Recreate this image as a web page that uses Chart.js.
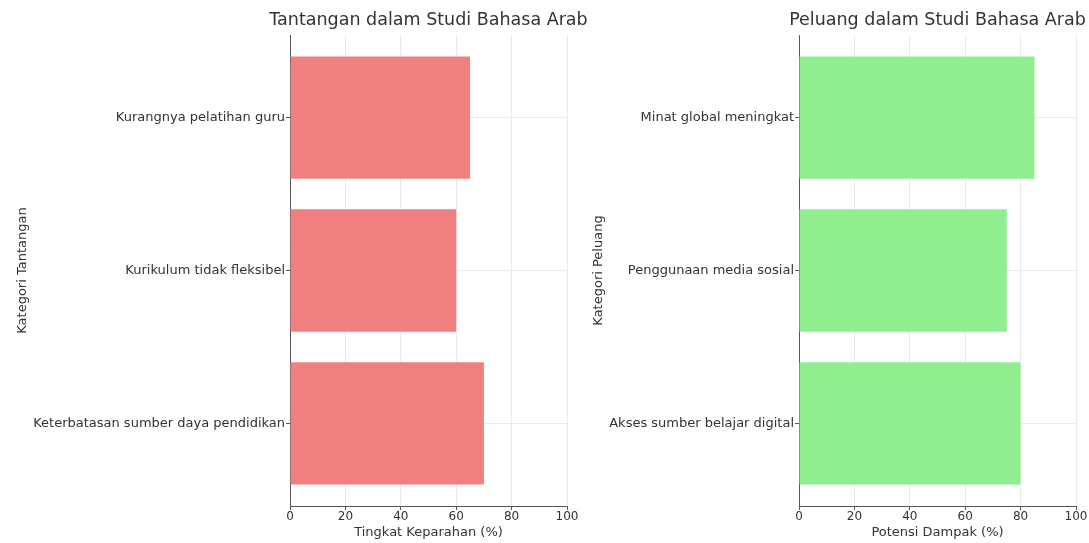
<!DOCTYPE html>
<html>
<head>
<meta charset="utf-8">
<script src="https://cdn.jsdelivr.net/npm/chart.js@4.4.1/dist/chart.umd.min.js"></script>
<style>
  html, body { margin: 0; padding: 0; background: #fff; }
  .box { position: absolute; top: 0; height: 543px; }
  #kiri { left: 0; width: 600px; }
  #kanan { left: 580px; width: 509px; }
</style>
</head>
<body>
<div class="box" id="kiri"><canvas id="chartTantangan"></canvas></div>
<div class="box" id="kanan"><canvas id="chartPeluang"></canvas></div>
<script>
// Data tantangan & peluang (urutan dari atas ke bawah)
const kategoriTantangan = ['Kurangnya pelatihan guru', 'Kurikulum tidak fleksibel', 'Keterbatasan sumber daya pendidikan'];
const nilaiTantangan = [65, 60, 70];
const kategoriPeluang = ['Minat global meningkat', 'Penggunaan media sosial', 'Akses sumber belajar digital'];
const nilaiPeluang = [85, 75, 80];
const tickX = [0, 20, 40, 60, 80, 100];

Chart.defaults.font.family = 'DejaVu Sans';
Chart.defaults.color = '#333';

// Judul digambar di tengah area plot (tanpa dipadatkan ke lebar area)
const judulPlugin = {
    id: 'judulPlot',
    afterDraw(chart, args, opts) {
        const ctx = chart.ctx;
        const area = chart.chartArea;
        ctx.save();
        ctx.font = '17.5px "DejaVu Sans"';
        ctx.fillStyle = '#333';
        ctx.textAlign = 'center';
        ctx.textBaseline = 'middle';
        ctx.fillText(opts.text, (area.left + area.right) / 2, 20);
        ctx.restore();
    }
};

function buatChart(canvasId, labels, values, color, judul, labelX, labelY, padKiri, padKanan, lebarY) {
    // posisi kategori 0,1,2 pada sumbu linear (mirip barh matplotlib)
    const titik = values.map((v, i) => ({ x: v, y: i }));
    new Chart(document.getElementById(canvasId), {
        type: 'bar',
        data: {
            datasets: [{
                data: titik,
                backgroundColor: color,
                barPercentage: 0.8,
                categoryPercentage: 1.0
            }]
        },
        plugins: [judulPlugin],
        options: {
            indexAxis: 'y',
            responsive: true,
            maintainAspectRatio: false,
            animation: false,
            layout: { padding: { top: 35, right: padKanan, bottom: 3, left: padKiri } },
            plugins: {
                legend: { display: false },
                tooltip: { enabled: false },
                title: { display: false },
                judulPlot: { text: judul }
            },
            scales: {
                x: {
                    type: 'linear',
                    min: 0,
                    max: 100,
                    afterBuildTicks: function (axis) {
                        axis.ticks = tickX.map(v => ({ value: v }));
                    },
                    grid: { color: '#ebebeb', tickLength: 4, tickColor: '#555' },
                    border: { color: '#555' },
                    ticks: { font: { size: 12 }, color: '#333', padding: 0 },
                    title: { display: true, text: labelX, font: { size: 13 }, color: '#333', padding: { top: 0, bottom: 0 } }
                },
                y: {
                    type: 'linear',
                    reverse: true,
                    offset: false,
                    min: -0.54,
                    max: labels.length - 1 + 0.54,
                    afterBuildTicks: function (axis) {
                        axis.ticks = labels.map((l, i) => ({ value: i }));
                    },
                    afterFit: function (axis) { axis.width = lebarY; },
                    grid: { color: '#ebebeb', offset: false, tickLength: 4, tickColor: '#555' },
                    border: { color: '#555' },
                    ticks: {
                        font: { size: 13 }, color: '#333', padding: 1,
                        callback: function (value) { return labels[value]; }
                    },
                    title: { display: true, text: labelY, font: { size: 13 }, color: '#333', padding: { top: 0, bottom: 0 } }
                }
            }
        }
    });
}

buatChart('chartTantangan', kategoriTantangan, nilaiTantangan, '#F08080',
    'Tantangan dalam Studi Bahasa Arab', 'Tingkat Keparahan (%)', 'Kategori Tantangan', 15, 33, 275);
buatChart('chartPeluang', kategoriPeluang, nilaiPeluang, '#90EE90',
    'Peluang dalam Studi Bahasa Arab', 'Potensi Dampak (%)', 'Kategori Peluang', 11, 13, 208);
</script>
</body>
</html>
